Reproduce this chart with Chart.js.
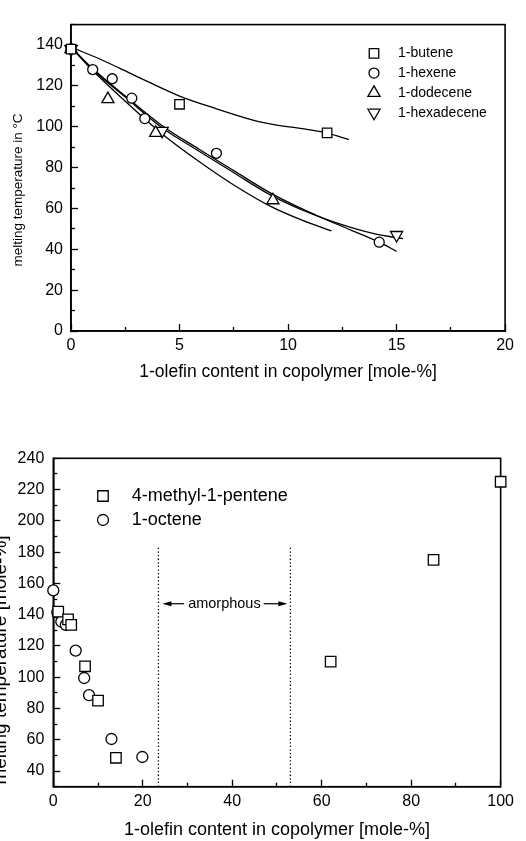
<!DOCTYPE html>
<html>
<head>
<meta charset="utf-8">
<script src="https://cdn.jsdelivr.net/npm/chart.js@4.4.1/dist/chart.umd.min.js"></script>
<style>
  html, body { margin: 0; padding: 0; background: #fff; }
  body { width: 526px; height: 841px; position: relative; overflow: hidden; }
  canvas { position: absolute; left: 0; }
  #meltTop { top: 0; }
  #meltBottom { top: 415px; }
</style>
</head>
<body>
<canvas id="meltTop" width="526" height="410"></canvas>
<canvas id="meltBottom" width="526" height="426"></canvas>
<script>
// ---- upper panel: measured melting points (x = mole-%, y = °C)
const buteneX = [0, 5.0, 11.8];
const buteneY = [138, 111, 97];
const hexeneX = [0, 1.0, 1.9, 2.8, 3.4, 6.7, 14.2];
const hexeneY = [138, 128, 123.5, 114, 104, 87, 43.5];
const dodeceneX = [0, 1.7, 3.9, 9.3];
const dodeceneY = [138, 113.5, 97, 64];
const hexadeceneX = [0, 4.2, 15.0];
const hexadeceneY = [138, 98, 47];

// fitted curves
const buteneFitX = [0, 1.4, 2.9, 5.0, 6.7, 8.7, 11.8, 12.8];
const buteneFitY = [139, 132.8, 125.3, 115, 108.8, 102.4, 96.9, 93.7];
const hexeneFitX = [0, 1, 2.5, 4.2, 5.9, 7.5, 9.2, 10.7, 12.2, 14.2, 15];
const hexeneFitY = [139, 128.5, 115, 100.5, 89, 78.5, 67.5, 59.5, 52.5, 43.5, 39];
const hexadeceneFitX = [0, 1, 2.5, 4.2, 5.9, 7.5, 9.2, 10.7, 12.2, 14, 15.3];
const hexadeceneFitY = [139, 128, 114.5, 99.5, 88, 77.5, 66.5, 59, 53, 47.5, 45.2];
const dodeceneFitX = [0, 1, 2.5, 4.2, 5.9, 7.5, 9.2, 10.7, 12];
const dodeceneFitY = [139, 127.5, 112.5, 96.5, 83, 71.5, 61, 54, 49];

const topXTicks = [0, 5, 10, 15, 20];
const topXMinor = [2.5, 7.5, 12.5, 17.5];
const topYTicks = [0, 20, 40, 60, 80, 100, 120, 140];
const topYMinor = [10, 30, 50, 70, 90, 110, 130, 150];

// ---- lower panel
const pentenesX = [1.1, 3.3, 4.0, 7.1, 10.0, 14.0, 62.0, 85.0, 100];
const pentenesY = [142, 137, 133.5, 107, 85, 48.5, 110, 175, 225];
const octeneX = [0, 0.9, 1.8, 2.8, 5.0, 6.9, 8.0, 13.0, 19.9];
const octeneY = [155.5, 141.5, 135.5, 133.5, 117, 99.5, 88.5, 60.5, 49];

const amorphousRange = [23.5, 53];
const amorphousTop = 183;
const amorphousLabelY = 147;

const botXTicks = [0, 20, 40, 60, 80, 100];
const botXMinor = [10, 30, 50, 70, 90];
const botYTicks = [40, 60, 80, 100, 120, 140, 160, 180, 200, 220, 240];
const botYMinor = [30, 50, 70, 90, 110, 130, 150, 170, 190, 210, 230];

const FONT = '"Liberation Sans", Arial, Helvetica, sans-serif';
Chart.defaults.font.family = FONT;
Chart.defaults.color = '#000';

const pts = (xs, ys) => xs.map((x, i) => ({ x: x, y: ys[i] }));

function fixedTicks(values) {
  return scale => { scale.ticks = values.map(v => ({ value: v })); };
}

function majorAxis(pos, min, max, values, size, labelPad, title) {
  const horizontal = pos === 'bottom';
  return {
    type: 'linear', position: pos, min: min, max: max, display: true,
    afterBuildTicks: fixedTicks(values),
    afterFit: s => { if (horizontal) s.height = size; else s.width = size; },
    grid: { drawOnChartArea: false, drawTicks: true, tickLength: -7, tickWidth: 1.3, tickColor: '#000' },
    border: { color: '#000', width: 1.6 },
    ticks: { autoSkip: false, maxRotation: 0, padding: labelPad, font: { size: 16 }, color: '#000' },
    title: title || { display: false }
  };
}

function minorAxis(pos, min, max, values) {
  const horizontal = pos === 'bottom';
  return {
    type: 'linear', position: pos, min: min, max: max, display: true, weight: -1,
    afterBuildTicks: fixedTicks(values),
    afterFit: s => { if (horizontal) s.height = 0; else s.width = 0; },
    grid: { drawOnChartArea: false, drawTicks: true, tickLength: -4, tickWidth: 1.3, tickColor: '#000' },
    border: { display: false },
    ticks: { display: false }
  };
}

function marker(label, xs, ys, style, radius, rotation) {
  return {
    label: label, data: pts(xs, ys), inKey: true, order: 0, clip: false,
    pointStyle: style, pointRadius: radius, pointRotation: rotation || 0,
    pointBorderWidth: 1.3, pointBorderColor: '#000', pointBackgroundColor: '#fff',
    pointHoverRadius: radius
  };
}

function curve(xs, ys) {
  return {
    data: pts(xs, ys), showLine: true, order: 1, pointRadius: 0,
    borderColor: '#000', borderWidth: 1.3, cubicInterpolationMode: 'monotone'
  };
}

// box around the plot area, under the markers
const framePlugin = {
  id: 'frame',
  beforeDatasetsDraw(chart) {
    const { ctx, chartArea: a } = chart;
    ctx.save();
    ctx.strokeStyle = '#000';
    ctx.lineWidth = 1.6;
    ctx.strokeRect(a.left, a.top, a.right - a.left, a.bottom - a.top);
    ctx.restore();
  }
};

// symbol key drawn inside the plot
const keyPlugin = {
  id: 'key',
  afterDatasetsDraw(chart, args, opts) {
    const ctx = chart.ctx;
    const items = chart.data.datasets.filter(d => d.inKey);
    ctx.save();
    ctx.font = opts.size + 'px ' + FONT;
    ctx.textBaseline = 'middle';
    items.forEach((d, i) => {
      const y = opts.y + i * opts.step;
      ctx.lineWidth = d.pointBorderWidth;
      ctx.strokeStyle = '#000';
      ctx.fillStyle = '#fff';
      Chart.helpers.drawPoint(ctx, {
        pointStyle: d.pointStyle, radius: d.pointRadius,
        rotation: d.pointRotation, borderWidth: d.pointBorderWidth
      }, opts.x, y);
      ctx.fillStyle = '#000';
      ctx.fillText(d.label, opts.textX, y);
    });
    ctx.restore();
  }
};

// rotated y-axis caption
const sideTitlePlugin = {
  id: 'sideTitle',
  afterDraw(chart, args, opts) {
    const ctx = chart.ctx;
    ctx.save();
    ctx.translate(opts.x, opts.y);
    ctx.rotate(-Math.PI / 2);
    ctx.font = opts.size + 'px ' + FONT;
    ctx.textAlign = 'center';
    ctx.textBaseline = opts.baseline;
    ctx.fillStyle = '#000';
    ctx.fillText(opts.text, 0, 0);
    ctx.restore();
  }
};

function arrow(ctx, from, to, y) {
  const dir = Math.sign(to - from);
  ctx.beginPath();
  ctx.moveTo(from, y);
  ctx.lineTo(to - dir * 6, y);
  ctx.stroke();
  ctx.beginPath();
  ctx.moveTo(to, y);
  ctx.lineTo(to - dir * 9, y - 2.6);
  ctx.lineTo(to - dir * 9, y + 2.6);
  ctx.closePath();
  ctx.fill();
}

// "amorphous" label with arrows out to the two dotted limits
const rangeLabelPlugin = {
  id: 'rangeLabel',
  afterDatasetsDraw(chart, args, opts) {
    const { ctx, scales: { x, y } } = chart;
    const x0 = x.getPixelForValue(amorphousRange[0]);
    const x1 = x.getPixelForValue(amorphousRange[1]);
    const yy = y.getPixelForValue(amorphousLabelY);
    const cx = (x0 + x1) / 2;
    ctx.save();
    ctx.font = '14.5px ' + FONT;
    ctx.fillStyle = '#000';
    ctx.strokeStyle = '#000';
    ctx.lineWidth = 1.2;
    ctx.textAlign = 'center';
    ctx.textBaseline = 'middle';
    ctx.fillText(opts.text, cx, yy);
    const w = ctx.measureText(opts.text).width;
    arrow(ctx, cx - w / 2 - 4, x0 + 4, yy);
    arrow(ctx, cx + w / 2 + 3, x1 - 3, yy);
    ctx.restore();
  }
};

new Chart(document.getElementById('meltTop'), {
  type: 'scatter',
  data: {
    datasets: [
      marker('1-butene', buteneX, buteneY, 'rect', 6.7),
      marker('1-hexene', hexeneX, hexeneY, 'circle', 5),
      marker('1-dodecene', dodeceneX, dodeceneY, 'triangle', 7),
      marker('1-hexadecene', hexadeceneX, hexadeceneY, 'triangle', 7, 180),
      curve(buteneFitX, buteneFitY),
      curve(hexeneFitX, hexeneFitY),
      curve(hexadeceneFitX, hexadeceneFitY),
      curve(dodeceneFitX, dodeceneFitY)
    ]
  },
  options: {
    responsive: false,
    animation: false,
    layout: { padding: { top: 13, right: 15, left: 0, bottom: 0 } },
    scales: {
      x: majorAxis('bottom', 0, 20, topXTicks, 79, 12, {
        display: true, text: '1-olefin content in copolymer [mole-%]',
        font: { size: 17.5 }, color: '#000', padding: { top: 0, bottom: 27 }
      }),
      xMinor: minorAxis('bottom', 0, 20, topXMinor),
      y: majorAxis('left', 0, 150, topYTicks, 71, 15),
      yMinor: minorAxis('left', 0, 150, topYMinor)
    },
    plugins: {
      legend: { display: false },
      tooltip: { enabled: false },
      key: { x: 374, y: 53.3, step: 19.8, textX: 398, size: 14 },
      sideTitle: { text: 'melting temperature in °C', x: 18, y: 190, size: 13.5, baseline: 'middle' }
    }
  },
  plugins: [framePlugin, keyPlugin, sideTitlePlugin]
});

const limitLine = xv => ({
  data: [{ x: xv, y: botYMinor[0] }, { x: xv, y: amorphousTop }],
  showLine: true, order: 2, pointRadius: 0,
  borderColor: '#000', borderWidth: 1.3, borderDash: [1.3, 2.3]
});

new Chart(document.getElementById('meltBottom'), {
  type: 'scatter',
  data: {
    datasets: [
      marker('4-methyl-1-pentene', pentenesX, pentenesY, 'rect', 7.4),
      marker('1-octene', octeneX, octeneY, 'circle', 5.5),
      limitLine(amorphousRange[0]),
      limitLine(amorphousRange[1])
    ]
  },
  options: {
    responsive: false,
    animation: false,
    layout: { padding: { top: 43.3, right: 14, left: 0, bottom: 0 } },
    scales: {
      x: majorAxis('bottom', 0, 100, botXTicks, 54.3, 12, {
        display: true, text: '1-olefin content in copolymer [mole-%]',
        font: { size: 18 }, color: '#000', padding: { top: 0, bottom: 0 }
      }),
      xMinor: minorAxis('bottom', 0, 100, botXMinor),
      y: majorAxis('left', 30, 240, botYTicks, 53.3, 16),
      yMinor: minorAxis('left', 30, 240, botYMinor)
    },
    plugins: {
      legend: { display: false },
      tooltip: { enabled: false },
      key: { x: 103, y: 81, step: 24, textX: 131.7, size: 18 },
      sideTitle: { text: 'melting temperature [mole-%]', x: 6, y: 245, size: 19, baseline: 'alphabetic' },
      rangeLabel: { text: 'amorphous' }
    }
  },
  plugins: [framePlugin, keyPlugin, sideTitlePlugin, rangeLabelPlugin]
});
</script>
</body>
</html>
